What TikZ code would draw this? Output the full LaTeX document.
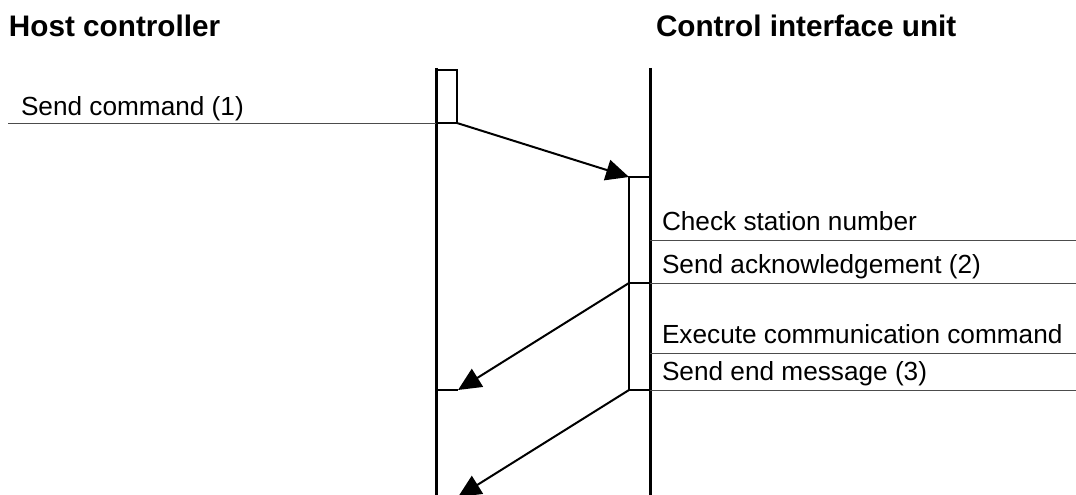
\documentclass[tikz,border=0pt]{standalone}
\usepackage{fontspec}
\setmainfont{Liberation Sans}
\usetikzlibrary{arrows.meta}

\begin{document}
\begin{tikzpicture}[x=1pt,y=-1pt,line width=2pt,>={Triangle[length=23pt,width=21pt]},
  lbl/.style={anchor=base west,inner sep=0pt,font=\fontsize{26.2}{30}\selectfont},
  head/.style={anchor=base west,inner sep=0pt,font=\fontsize{29.7}{34}\selectfont\bfseries},
  rule/.style={line width=1pt,black!70}]
  \useasboundingbox (0,0) rectangle (1076,495);
  % cabeceras
  \node[head] (host) at (8,37) {Host controller};
  \node[head] (ciu) at (655,37) {Control interface unit};
  % lineas de vida
  \draw[line width=3pt] (436,68) -- (436,496) (650,68) -- (650,496);
  % activaciones
  \draw (436,70) rectangle (457,123);
  \draw (629,177) rectangle (650,390);
  \draw (629,283) -- (650,283);
  % textos y reglas
  \node[lbl] (cmd) at (20,115) {Send command (1)};
  \draw[rule] (8,123) -- (436,123);
  \node[lbl] (chk) at (661,230) {Check station number};
  \node[lbl] (ack) at (661,273) {Send acknowledgement (2)};
  \node[lbl] (exe) at (661,343) {Execute communication command};
  \node[lbl] (fin) at (661,380) {Send end message (3)};
  \foreach \y in {240,283,353,390} \draw[rule] (650,\y) -- (1076,\y);
  % mensajes
  \coordinate (s1) at (457,123); \coordinate (r1) at (629,177);
  \coordinate (s2) at (629,283); \coordinate (r2) at (458,390);
  \coordinate (s3) at (629,390); \coordinate (r3) at (458,497);
  \draw[->] (s1) -- (r1);
  \draw[->] (s2) -- (r2);
  \draw (436,390) -- (r2);
  \draw[->] (s3) -- (r3);
\end{tikzpicture}
\end{document}
